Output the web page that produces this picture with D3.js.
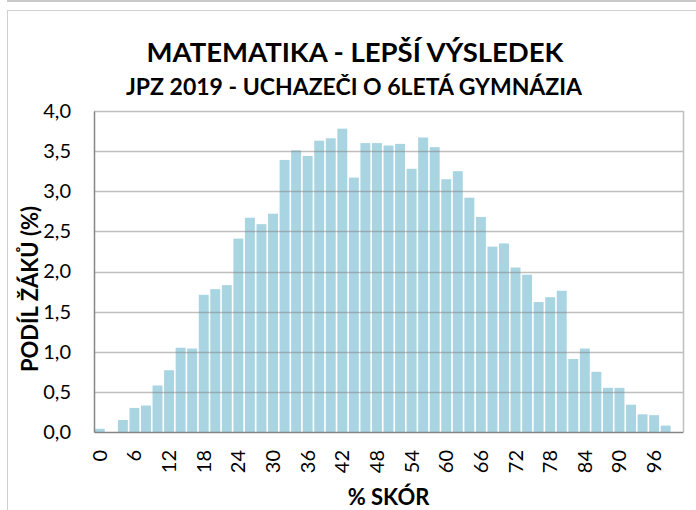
<!DOCTYPE html>
<html>
<head>
<meta charset="utf-8">
<script src="https://cdnjs.cloudflare.com/ajax/libs/d3/7.8.5/d3.min.js"></script>
<style>
  body { margin: 0; background: #fff; }
  svg text { font-family: Lato, "Open Sans", sans-serif; fill: #000; }
  .title { font-weight: bold; }
</style>
</head>
<body>
<script>

// score categories (% skór), 0..100 step 2
var scores = d3.range(0, 101, 2);

// share of pupils (%) per score bucket
var shares = [
  0.04, 0.00, 0.15, 0.30, 0.33, 0.58, 0.77, 1.05, 1.04, 1.71,
  1.78, 1.83, 2.41, 2.67, 2.59, 2.72, 3.39, 3.51, 3.44, 3.63,
  3.66, 3.78, 3.17, 3.60, 3.60, 3.57, 3.59, 3.28, 3.67, 3.55,
  3.15, 3.25, 2.92, 2.68, 2.31, 2.35, 2.05, 1.96, 1.62, 1.68,
  1.76, 0.91, 1.04, 0.75, 0.55, 0.55, 0.34, 0.22, 0.21, 0.08,
  0.00
];

var yTicks = [0, 0.5, 1, 1.5, 2, 2.5, 3, 3.5, 4];
var xLabels = d3.range(0, 97, 6);

var title = "MATEMATIKA - LEPŠÍ VÝSLEDEK",
    subtitle = "JPZ 2019 - UCHAZEČI O 6LETÁ GYMNÁZIA",
    yTitle = "PODÍL ŽÁKŮ (%)",
    xTitle = "% SKÓR";

var data = scores.map(function(s, i) { return {score: s, value: shares[i]}; });

var W = 696, H = 510;
var margin = {top: 111, right: 13, bottom: 78, left: 94};
var width = W - margin.left - margin.right,
    height = H - margin.top - margin.bottom;

var svg = d3.select("body").append("svg")
    .attr("width", W)
    .attr("height", H);

// chart frame
svg.append("rect")
    .attr("x", 7.5).attr("y", 10.5)
    .attr("width", 720).attr("height", 520)
    .attr("fill", "none").attr("stroke", "#d0d0d0");
svg.append("line")
    .attr("x1", 7).attr("x2", W).attr("y1", 1).attr("y2", 1)
    .attr("stroke", "#c8c8c8").attr("stroke-width", 2);

svg.append("text").attr("class", "title")
    .attr("x", 355).attr("y", 62)
    .attr("text-anchor", "middle")
    .style("font-size", "27.5px")
    .text(title);

svg.append("text").attr("class", "title")
    .attr("x", 354).attr("y", 95)
    .attr("text-anchor", "middle")
    .style("font-size", "23px")
    .text(subtitle);

var g = svg.append("g")
    .attr("transform", "translate(" + margin.left + "," + margin.top + ")");

var x = d3.scaleBand()
    .domain(scores)
    .range([0, width])
    .paddingInner(0.14)
    .paddingOuter(0.07);

var y = d3.scaleLinear()
    .domain([0, 4])
    .range([height, 0]);

// bars
g.selectAll(".bar")
    .data(data)
  .enter().append("rect")
    .attr("class", "bar")
    .attr("x", function(d) { return x(d.score); })
    .attr("width", x.bandwidth())
    .attr("y", function(d) { return y(d.value); })
    .attr("height", function(d) { return height - y(d.value); })
    .attr("fill", "#a9d5e2");

// gridlines, drawn over the bars like the original
g.selectAll(".grid")
    .data(yTicks.slice(1))
  .enter().append("line")
    .attr("class", "grid")
    .attr("x1", 0).attr("x2", width)
    .attr("y1", function(d) { return Math.round(y(d)) + 0.5; })
    .attr("y2", function(d) { return Math.round(y(d)) + 0.5; })
    .attr("stroke", "#7f7f7f")
    .attr("stroke-opacity", 0.5)
    .attr("stroke-width", 1.5);

// right border
g.append("line")
    .attr("x1", width + 0.5).attr("x2", width + 0.5)
    .attr("y1", 0).attr("y2", height)
    .attr("stroke", "#bfbfbf").attr("stroke-width", 1.5);

// y axis
var yAxis = g.append("g")
    .call(d3.axisLeft(y).tickValues(yTicks).tickSize(0).tickPadding(23)
      .tickFormat(function(d) { return d3.format(".1f")(d).replace(".", ","); }));
yAxis.select(".domain").attr("stroke", "#868686").attr("stroke-width", 1.5);
yAxis.selectAll("text")
    .style("font-size", "20px")
    .style("font-family", "Lato, sans-serif")
    .attr("fill", "#000");

// x axis
var xAxis = g.append("g")
    .attr("transform", "translate(0," + height + ")")
    .call(d3.axisBottom(x).tickValues(xLabels).tickSize(0).tickSizeOuter(0));
xAxis.select(".domain").attr("stroke", "#868686").attr("stroke-width", 1.5);
xAxis.selectAll("text")
    .style("font-size", "20px")
    .style("font-family", "Lato, sans-serif")
    .attr("fill", "#000")
    .attr("transform", "rotate(-90)")
    .attr("text-anchor", "end")
    .attr("x", -18)
    .attr("y", 0)
    .attr("dy", "0.35em");

// axis titles
svg.append("text").attr("class", "title")
    .attr("transform", "translate(38,289) rotate(-90)")
    .attr("text-anchor", "middle")
    .style("font-size", "22px")
    .text(yTitle);

svg.append("text").attr("class", "title")
    .attr("x", margin.left + width / 2).attr("y", 505)
    .attr("text-anchor", "middle")
    .style("font-size", "22px")
    .text(xTitle);

</script>
</body>
</html>
